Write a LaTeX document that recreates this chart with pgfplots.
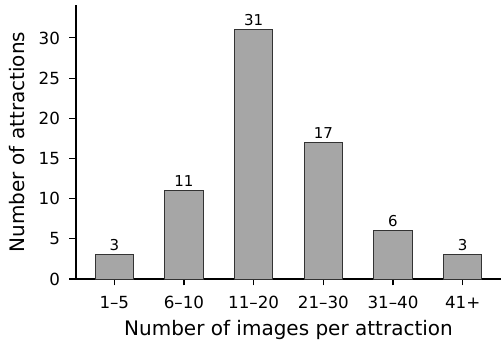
\documentclass[border=0pt]{standalone}
\usepackage{fontspec}
\setmainfont{DejaVu Sans}
\usepackage{pgfplots}
\pgfplotsset{compat=1.18}
\definecolor{barfill}{HTML}{A6A6A6}
\definecolor{baredge}{HTML}{333333}
\begin{document}
\begin{tikzpicture}
\begin{axis}[
  scale only axis,
  width=425bp, height=274bp,
  xmin=-0.55, xmax=5.55,
  ymin=0, ymax=34.1,
  axis x line*=bottom, axis y line*=left,
  axis line style={line width=1.2bp, black},
  xtick={0,1,2,3,4,5},
  xticklabels={1–5,6–10,11–20,21–30,31–40,41+},
  ytick={0,5,10,15,20,25,30},
  tick align=outside,
  major tick length=6.5bp,
  tick style={line width=1.1bp, black},
  /pgf/number format/assume math mode=true,
  tick label style={font=\fontsize{16.7bp}{20bp}\selectfont},
  xticklabel style={yshift=-7bp},
  yticklabel style={xshift=-6bp},
  label style={font=\fontsize{20bp}{24bp}\selectfont},
  xlabel={Number of images per attraction},
  ylabel={Number of attractions},
  xlabel style={at={(axis description cs:0.5,0)}, anchor=base, yshift=-56bp},
  ylabel style={at={(axis description cs:0,0.5)}, anchor=base, yshift=51bp},
  ybar, bar width=0.55, bar shift=0pt,
  nodes near coords,
  every node near coord/.append style={font=\fontsize{15bp}{18bp}\selectfont, text=black, yshift=0bp},
  clip=false,
]
\addplot[fill=barfill, draw=baredge, line width=0.9bp] coordinates {(0,3) (1,11) (2,31) (3,17) (4,6) (5,3)};
\end{axis}
\path (current axis.south west) ++(-76bp,-66bp) rectangle ++(502bp,345bp);
\end{tikzpicture}
\end{document}
